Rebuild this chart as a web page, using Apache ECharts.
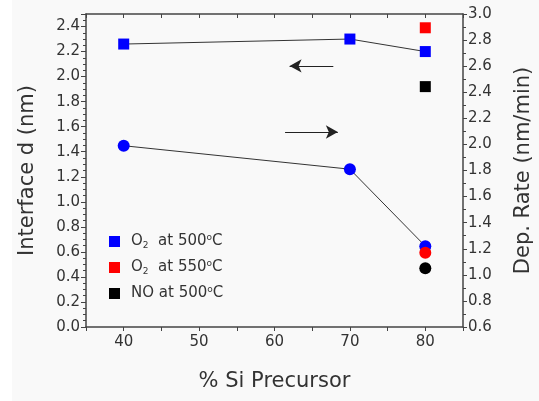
<!DOCTYPE html>
<html><head><meta charset="utf-8">
<script src="https://cdn.jsdelivr.net/npm/echarts@6/dist/echarts.min.js"></script>
<style>
html,body{margin:0;padding:0;background:#fff;}
#c{position:absolute;left:12px;top:0;width:527px;height:401px;background:#f9f9f9;}
</style></head>
<body><div id="c"></div>
<script>
// Data
const xCats = [40, 70, 80];
const o2_500_thick = [2.26, 2.30, 2.20];   // left axis, squares
const o2_500_rate  = [1.99, 1.81, 1.22];   // right axis, circles
const o2_550_thick = [[80, 2.39]];
const o2_550_rate  = [[80, 1.17]];
const no_500_thick = [[80, 1.92]];
const no_500_rate  = [[80, 1.05]];
const leftArrow  = {y: 2.085, from: 67.8, to: 62.0};
const rightArrow = {y: 2.095, from: 61.4, to: 68.4};
const legendNames = {
  o2_500: 'O{sub|2}  at 500{sup|o}C',
  o2_550: 'O{sub|2}  at 550{sup|o}C',
  no_500: 'NO at 500{sup|o}C'
};

const F = 'DejaVu Sans';
const TXT = '#333';
const AX = '#444';
const zip = (xs, ys) => xs.map((x, i) => [x, ys[i]]);

const chart = echarts.init(document.getElementById('c'));
chart.setOption({
  animation: false,
  grid: {left: 74, right: 76, top: 14, bottom: 74, containLabel: false, outerBoundsMode: 'none'},
  textStyle: {fontFamily: F},
  xAxis: [{
    type: 'value', min: 35, max: 85, interval: 5,
    name: '% Si Precursor', nameLocation: 'middle', nameGap: 44,
    nameTextStyle: {fontFamily: F, fontSize: 21, color: TXT},
    axisLine: {lineStyle: {color: AX, width: 1.5}},
    axisTick: {show: true, length: 4, lineStyle: {color: AX}},
    axisLabel: {fontFamily: F, fontSize: 15, color: TXT, margin: 8,
      formatter: v => (v % 10 === 0 ? String(v) : '')},
    splitLine: {show: false}
  }, {
    type: 'value', min: 35, max: 85, interval: 5, position: 'top',
    axisLine: {show: true, lineStyle: {color: AX, width: 1.5}},
    axisTick: {show: true, inside: true, length: 4, lineStyle: {color: AX}},
    axisLabel: {show: false}, splitLine: {show: false}
  }],
  yAxis: [{
    type: 'value', min: 0, max: 2.5, interval: 0.2, position: 'left',
    name: 'Interface d (nm)', nameLocation: 'middle', nameGap: 48, nameRotate: 90,
    nameTextStyle: {fontFamily: F, fontSize: 21, color: TXT},
    axisLine: {show: true, lineStyle: {color: AX, width: 1.5}},
    axisTick: {show: true, length: 5, lineStyle: {color: AX}},
    minorTick: {show: true, splitNumber: 4, length: 3, lineStyle: {color: AX}},
    axisLabel: {fontFamily: F, fontSize: 15, color: TXT, margin: 6, showMaxLabel: false,
      formatter: v => v.toFixed(1)},
    splitLine: {show: false}
  }, {
    type: 'value', min: 0.6, max: 3.0, interval: 0.2, position: 'right',
    name: 'Dep. Rate (nm/min)', nameLocation: 'middle', nameGap: 50, nameRotate: 90,
    nameTextStyle: {fontFamily: F, fontSize: 21, color: TXT},
    axisLine: {show: true, lineStyle: {color: AX, width: 1.5}},
    axisTick: {show: true, length: 4, lineStyle: {color: AX}},
    minorTick: {show: true, splitNumber: 2, length: 3, lineStyle: {color: AX}},
    axisLabel: {fontFamily: F, fontSize: 15, color: TXT, margin: 5,
      formatter: v => v.toFixed(1)},
    splitLine: {show: false}
  }],
  legend: {
    orient: 'vertical', left: 92, top: 228, itemWidth: 11, itemHeight: 11, itemGap: 9,
    icon: 'rect', selectedMode: false,
    data: ['o2_500', 'o2_550', 'no_500'],
    formatter: n => legendNames[n],
    textStyle: {fontFamily: F, fontSize: 15, color: TXT, padding: [0, 0, 0, 6],
      rich: {
        sub: {fontFamily: F, fontSize: 9, color: TXT, verticalAlign: 'bottom', padding: [8, 0, 0, 0]},
        sup: {fontFamily: F, fontSize: 9, color: TXT, verticalAlign: 'top', padding: [0, 0, 8, 0]}
      }}
  },
  series: [
    {name: 'o2_500', type: 'line', xAxisIndex: 0, yAxisIndex: 0, data: zip(xCats, o2_500_thick),
     symbol: 'rect', symbolSize: 11, itemStyle: {color: '#0000ff', opacity: 1}, z: 2,
     lineStyle: {color: '#333', width: 1},
     markLine: {silent: true, symbol: ['none', 'arrow'], symbolSize: [10, 12], label: {show: false},
       lineStyle: {color: '#222', width: 1.2, type: 'solid'},
       data: [[{coord: [leftArrow.from, leftArrow.y]}, {coord: [leftArrow.to, leftArrow.y]}]]}},
    {name: 'o2_500', type: 'line', xAxisIndex: 0, yAxisIndex: 1, data: zip(xCats, o2_500_rate),
     symbol: 'circle', symbolSize: 12, itemStyle: {color: '#0000ff', opacity: 1}, z: 2,
     lineStyle: {color: '#333', width: 1},
     markLine: {silent: true, symbol: ['none', 'arrow'], symbolSize: [10, 12], label: {show: false},
       lineStyle: {color: '#222', width: 1.2, type: 'solid'},
       data: [[{coord: [rightArrow.from, rightArrow.y]}, {coord: [rightArrow.to, rightArrow.y]}]]}},
    {name: 'o2_550', type: 'scatter', yAxisIndex: 0, data: o2_550_thick, z: 5,
     symbol: 'rect', symbolSize: 11, itemStyle: {color: '#ff0000', opacity: 1}},
    {name: 'o2_550', type: 'scatter', yAxisIndex: 1, data: o2_550_rate, z: 5,
     symbol: 'circle', symbolSize: 12, itemStyle: {color: '#ff0000', opacity: 1}},
    {name: 'no_500', type: 'scatter', yAxisIndex: 0, data: no_500_thick, z: 5,
     symbol: 'rect', symbolSize: 11, itemStyle: {color: '#000000', opacity: 1}},
    {name: 'no_500', type: 'scatter', yAxisIndex: 1, data: no_500_rate, z: 5,
     symbol: 'circle', symbolSize: 12, itemStyle: {color: '#000000', opacity: 1}}
  ]
});
</script></body></html>
